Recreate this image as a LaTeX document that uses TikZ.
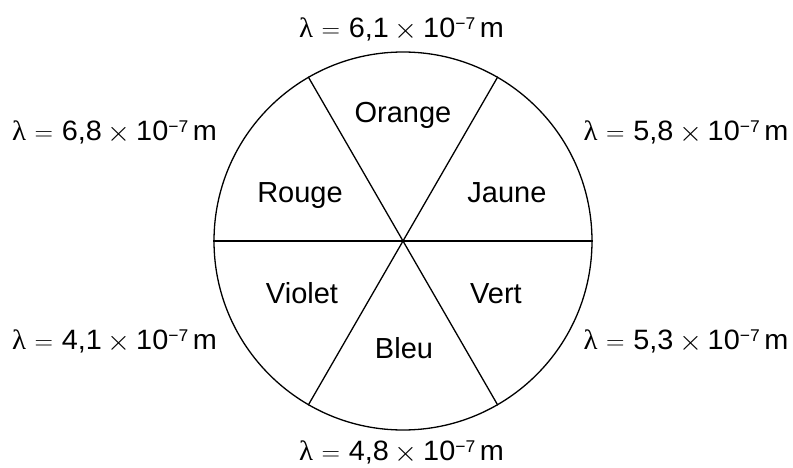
\documentclass[tikz,border=0pt]{standalone}
\usepackage{fontspec}
\setmainfont{Liberation Sans}
\newfontfamily\lamfont{Liberation Serif}
\newcommand{\wl}[1]{\scalebox{1.03}[1]{{\lamfont λ}\kern1.5pt${}={}$\kern1.5pt#1${}\mathbin{\raisebox{-1pt}{\scalebox{1.15}{$\times$}}}{}$10\raisebox{8pt}{\fontsize{17}{17}\selectfont −7}\kern4.5pt m}}
\begin{document}
\begin{tikzpicture}[x=1pt,y=-1pt,
  lbl/.style={anchor=base,inner sep=0pt,font=\fontsize{29}{31}\selectfont},
  wave/.style={anchor=base,inner sep=0pt,font=\fontsize{28}{30}\selectfont},
  spoke/.style={line width=1.3pt}]
\useasboundingbox (0,0) rectangle (793,468);
\node[circle,draw,line width=1.3pt,minimum size=378pt,inner sep=0pt] (wheel) at (403,241) {};
\draw[spoke] (wheel.180) -- (wheel.0);
\draw[spoke] (wheel.120) -- (wheel.300);
\draw[spoke] (wheel.60) -- (wheel.240);
\node[lbl] (orange) at (403,123) {Orange};
\node[lbl] (rouge) at (300,203) {Rouge};
\node[lbl] (jaune) at (507,203) {Jaune};
\node[lbl] (violet) at (302,303) {Violet};
\node[lbl] (vert) at (496,303) {Vert};
\node[lbl] (bleu) at (404,358) {Bleu};
\node[wave] (wtop) at (401.5,38) {\wl{6,1}};
\node[wave] (wul) at (114.5,141) {\wl{6,8}};
\node[wave] (wur) at (686,141) {\wl{5,8}};
\node[wave] (wll) at (114.5,349) {\wl{4,1}};
\node[wave] (wlr) at (686,349) {\wl{5,3}};
\node[wave] (wbot) at (401.5,460) {\wl{4,8}};
\end{tikzpicture}
\end{document}
